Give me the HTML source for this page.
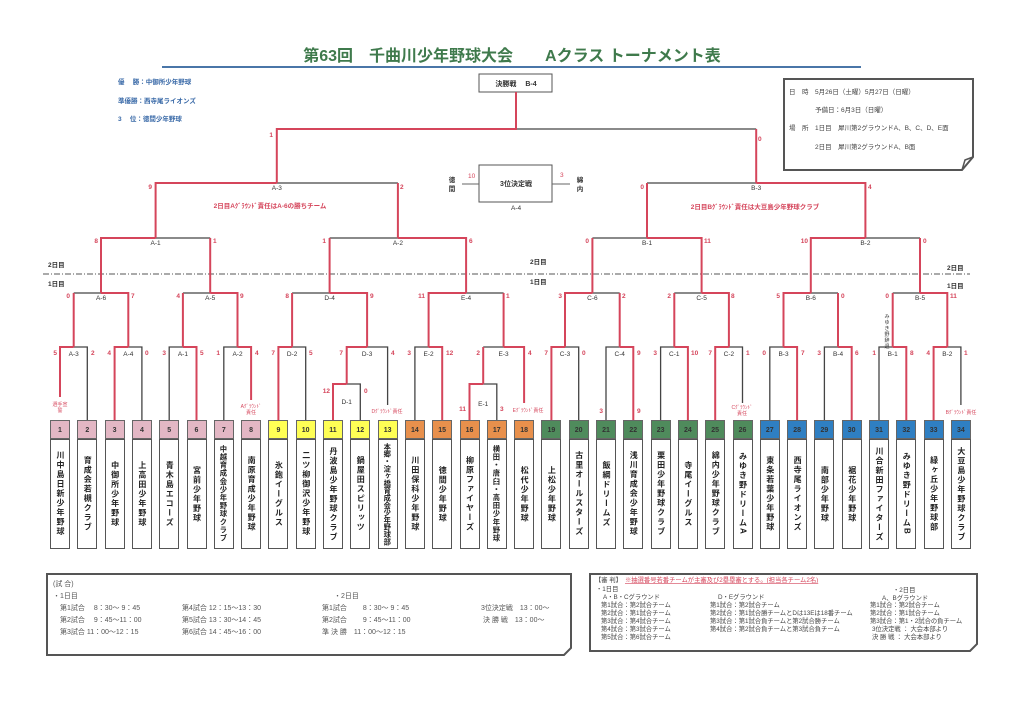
<!DOCTYPE html>
<html><head><meta charset="utf-8">
<style>
html,body{margin:0;padding:0;background:#fff;}
body{width:1024px;height:724px;position:relative;overflow:hidden;font-family:"Liberation Sans","Noto Sans CJK JP",sans-serif;}
svg{position:absolute;left:0;top:0;}
.th{position:absolute;top:420px;height:19px;width:20px;font-size:7px;font-weight:bold;color:#333;text-align:center;line-height:19px;border:1px solid #666;box-sizing:border-box;}
.tn{position:absolute;top:439px;height:110px;width:20px;border:1px solid #555;box-sizing:border-box;display:flex;align-items:center;justify-content:center;overflow:hidden;}
.tn span{writing-mode:vertical-rl;font-size:8px;font-weight:bold;color:#222;letter-spacing:1.5px;line-height:1;white-space:nowrap;}
.tn span.l{font-size:7.3px;letter-spacing:0;}
.p{background:#e3b7c4}.y{background:#ffff55}.o{background:#e8904c}.g{background:#4f8b5c}.b{background:#2f7fc2}
</style></head><body>
<svg width="1024" height="724" viewBox="0 0 1024 724" font-family="Liberation Sans, Noto Sans CJK JP, sans-serif">
<text x="512" y="61" font-size="16" font-weight="bold" fill="#3f7a4c" text-anchor="middle">第63回　千曲川少年野球大会　　Aクラス トーナメント表</text>
<line x1="162" y1="67" x2="861" y2="67" stroke="#4a76a8" stroke-width="2"/>
<g font-size="6.5" font-weight="bold" fill="#3a6aa8">
<text x="118" y="84">優　 勝：中御所少年野球</text>
<text x="118" y="103">準優勝：西寺尾ライオンズ</text>
<text x="118" y="121">3　 位：徳間少年野球</text>
</g>
<path d="M784 79H973V157L962 170H784Z" fill="#fff" stroke="#555" stroke-width="2"/>
<path d="M962 170L965 160L973 157" fill="none" stroke="#555" stroke-width="1.5"/>
<g font-size="6.5" fill="#444">
<text x="789" y="94">日　時　5月26日（土曜）5月27日（日曜）</text>
<text x="815" y="112">予備日：6月3日（日曜）</text>
<text x="789" y="130">場　所　1日目　犀川第2グラウンドA、B、C、D、E面</text>
<text x="815" y="149">2日目　犀川第2グラウンドA、B面</text>
</g>
<rect x="479" y="74" width="73" height="18" fill="#fff" stroke="#555" stroke-width="1"/>
<text x="516" y="86" font-size="7" font-weight="bold" text-anchor="middle" fill="#333">決勝戦　 B-4</text>
<rect x="479" y="165" width="73" height="37" fill="#fff" stroke="#555" stroke-width="1"/>
<text x="516" y="186" font-size="7" font-weight="bold" text-anchor="middle" fill="#333">3位決定戦</text>
<text x="516" y="210" font-size="6.5" text-anchor="middle" fill="#333">A-4</text>
<line x1="462" y1="184" x2="479" y2="184" stroke="#666"/>
<line x1="552" y1="184" x2="570" y2="184" stroke="#666"/>
<text x="468" y="178" font-size="6.5" fill="#d5455b">10</text>
<text x="560" y="177" font-size="6.5" fill="#d5455b">3</text>
<text x="452" y="182" font-size="6.5" font-weight="bold" fill="#333" text-anchor="middle">徳</text>
<text x="452" y="191" font-size="6.5" font-weight="bold" fill="#333" text-anchor="middle">間</text>
<text x="580" y="182" font-size="6.5" font-weight="bold" fill="#333" text-anchor="middle">綿</text>
<text x="580" y="191" font-size="6.5" font-weight="bold" fill="#333" text-anchor="middle">内</text>
<text x="270" y="208" font-size="6.5" font-weight="bold" fill="#d5455b" text-anchor="middle">2日目Aｸﾞﾗｳﾝﾄﾞ責任はA-6の勝ちチーム</text>
<text x="755" y="209" font-size="6.5" font-weight="bold" fill="#d5455b" text-anchor="middle">2日目Bｸﾞﾗｳﾝﾄﾞ責任は大豆島少年野球クラブ</text>
<line x1="43" y1="274" x2="970" y2="274" stroke="#555" stroke-width="1" stroke-dasharray="6 2 1 2"/>
<g font-size="6.5" font-weight="bold" fill="#333">
<text x="48" y="267">2日目</text><text x="48" y="286">1日目</text>
<text x="530" y="264">2日目</text><text x="530" y="284">1日目</text>
<text x="947" y="270">2日目</text><text x="947" y="288">1日目</text>
</g>
<g fill="none" stroke="#444" stroke-width="1.3">
<path d="M73.7 347H87.3V420M128.3 347H141.9V420M169.2 420V347H182.9M223.8 420V347H237.5M292.1 347H305.7V420"/>
<path d="M346.7 384H360.3V420M367.1 347H387.6V405M414.9 420V347H428.6M483.2 384H496.8V420M483.2 347H503.6"/>
<path d="M565 347H578.7V420M606 420V347H619.7M660.6 420V347H674.3M728.9 347H742.5V403M769.8 420V347H783.5M824.4 420V347H838M879 420V347H892.7M947.3 347H960.9V405"/>
<path d="M73.7 293H101M182.9 293H210.2M292.1 293H329.6M466.1 293H503.6M592.4 293H619.7M674.3 293H701.6M810.8 293H838M892.7 293H920"/>
<path d="M155.6 238H210.2M329.6 238H397.9M592.4 238H647M865.4 238H920M276.8 183H397.9M647 183H756.2M516 129H756.2"/>
</g>
<g fill="none" stroke="#d5455b" stroke-width="2">
<path d="M60 397V347H73.7M114.6 420V347H128.3M182.9 347H196.5V420M237.5 347H251.1V400M278.4 420V347H292.1"/>
<path d="M333 420V384H346.7M346.7 384V347H367.1M428.6 347H442.2V420M469.5 420V384H483.2M483.2 384V347M503.6 347H524.1V403"/>
<path d="M551.4 420V347H565M619.7 347H633.3V420M674.3 347H687.9V420M715.2 420V347H728.9M783.5 347H797.1V420M838 347H851.7V420M892.7 347H906.3V420M933.6 420V347H947.3"/>
<path d="M73.7 347V293M128.3 347V293H101M182.9 347V293M237.5 347V293H210.2M292.1 347V293M367.1 347V293H329.6M428.6 347V293H466.1M503.6 347V293"/>
<path d="M565 347V293H592.4M619.7 347V293M674.3 347V293M728.9 347V293H701.6M783.5 347V293H810.8M838 347V293M892.7 347V293M947.3 347V293H920"/>
<path d="M101 293V238H155.6M210.2 293V238M329.6 293V238M466.1 293V238H397.9M592.4 293V238M701.6 293V238H647M810.8 293V238H865.4M920 293V238"/>
<path d="M155.6 238V183H276.8M397.9 238V183M647 238V183M865.4 238V183H756.2M276.8 183V129H516V92M756.2 183V129"/>
</g>
<g font-size="6.5" fill="#333" text-anchor="middle">
<text x="73.7" y="356">A-3</text><text x="128.3" y="356">A-4</text><text x="182.9" y="356">A-1</text><text x="237.5" y="356">A-2</text><text x="292.1" y="356">D-2</text><text x="367.1" y="356">D-3</text><text x="428.6" y="356">E-2</text><text x="503.6" y="356">E-3</text>
<text x="565" y="356">C-3</text><text x="619.7" y="356">C-4</text><text x="674.3" y="356">C-1</text><text x="728.9" y="356">C-2</text><text x="783.5" y="356">B-3</text><text x="838" y="356">B-4</text><text x="892.7" y="356">B-1</text><text x="947.3" y="356">B-2</text>
<text x="346.7" y="404">D-1</text><text x="483.2" y="406">E-1</text>
<text x="101" y="300">A-6</text><text x="210.2" y="300">A-5</text><text x="329.6" y="300">D-4</text><text x="466.1" y="300">E-4</text><text x="592.4" y="300">C-6</text><text x="701.6" y="300">C-5</text><text x="810.8" y="300">B-6</text><text x="920" y="300">B-5</text>
<text x="155.6" y="245">A-1</text><text x="397.9" y="245">A-2</text><text x="647" y="245">B-1</text><text x="865.4" y="245">B-2</text>
<text x="276.8" y="190">A-3</text><text x="756.2" y="190">B-3</text>
</g>
<g font-size="6.5" fill="#d5455b" font-weight="bold">
<g text-anchor="end">
<text x="57" y="355">5</text><text x="111" y="355">4</text><text x="166" y="355">3</text><text x="220" y="355">1</text><text x="275" y="355">7</text><text x="343" y="355">7</text><text x="411" y="355">3</text><text x="480" y="355">2</text>
<text x="548" y="355">7</text><text x="657" y="355">3</text><text x="712" y="355">7</text><text x="766" y="355">0</text><text x="821" y="355">3</text><text x="876" y="355">1</text><text x="930" y="355">4</text>
<text x="330" y="393">12</text><text x="466" y="411">11</text><text x="603" y="413">3</text>
<text x="70" y="298">0</text><text x="180" y="298">4</text><text x="289" y="298">8</text><text x="425" y="298">11</text><text x="562" y="298">3</text><text x="671" y="298">2</text><text x="780" y="298">5</text><text x="889" y="298">0</text>
<text x="98" y="243">8</text><text x="326" y="243">1</text><text x="589" y="243">0</text><text x="808" y="243">10</text>
<text x="152" y="189">9</text><text x="644" y="189">0</text><text x="273" y="137">1</text>
</g>
<text x="91" y="355">2</text><text x="145" y="355">0</text><text x="200" y="355">5</text><text x="255" y="355">4</text><text x="309" y="355">5</text><text x="391" y="355">4</text><text x="446" y="355">12</text><text x="528" y="355">4</text>
<text x="582" y="355">0</text><text x="637" y="355">9</text><text x="691" y="355">10</text><text x="746" y="355">1</text><text x="801" y="355">7</text><text x="855" y="355">6</text><text x="910" y="355">8</text><text x="964" y="355">1</text>
<text x="364" y="393">0</text><text x="500" y="411">3</text><text x="637" y="413">9</text>
<text x="131" y="298">7</text><text x="240" y="298">9</text><text x="370" y="298">9</text><text x="506" y="298">1</text><text x="622" y="298">2</text><text x="731" y="298">8</text><text x="841" y="298">0</text><text x="950" y="298">11</text>
<text x="213" y="243">1</text><text x="469" y="243">6</text><text x="704" y="243">11</text><text x="923" y="243">0</text>
<text x="400" y="189">2</text><text x="868" y="189">4</text><text x="758" y="141">0</text>
</g>
<g font-size="5" fill="#d5455b" text-anchor="middle">
<text x="60" y="406">選手宣</text><text x="60" y="412">誓</text>
<text x="251" y="408">Aｸﾞﾗｳﾝﾄﾞ</text><text x="251" y="414">責任</text>
<text x="387" y="413">Dｸﾞﾗｳﾝﾄﾞ責任</text>
<text x="528" y="412">Eｸﾞﾗｳﾝﾄﾞ責任</text>
<text x="742" y="409">Cｸﾞﾗｳﾝﾄﾞ</text><text x="742" y="415">責任</text>
<text x="961" y="414">Bｸﾞﾗｳﾝﾄﾞ責任</text>
</g>
<g font-size="5" fill="#333" text-anchor="middle">
<text x="887" y="318">み</text><text x="887" y="324">ゆ</text><text x="887" y="330">き</text><text x="887" y="336">野</text><text x="887" y="342">辞</text><text x="887" y="348">退</text>
</g>
<path d="M47 574H571V648L564 655H47Z" fill="#fff" stroke="#555" stroke-width="2"/>
<path d="M590 574H977V644L970 651H590Z" fill="#fff" stroke="#555" stroke-width="2"/>
<g font-size="7" fill="#555">
<text x="53" y="586">(試 合)</text>
<text x="53" y="598">・1日目</text>
<text x="60" y="610">第1試合　 8：30～ 9：45</text>
<text x="60" y="622">第2試合　 9：45～11：00</text>
<text x="60" y="634">第3試合 11：00～12：15</text>
<text x="182" y="610">第4試合 12：15～13：30</text>
<text x="182" y="622">第5試合 13：30～14：45</text>
<text x="182" y="634">第6試合 14：45～16：00</text>
<text x="334" y="598">・2日目</text>
<text x="322" y="610">第1試合　　 8：30～ 9：45</text>
<text x="322" y="622">第2試合　　 9：45～11：00</text>
<text x="322" y="634">準 決 勝　11：00～12：15</text>
<text x="481" y="610">3位決定戦　13：00～</text>
<text x="483" y="622">決 勝 戦　13：00～</text>
</g>
<g font-size="6.3" fill="#444">
<text x="595" y="582">【審 判】</text>
<text x="625" y="582" fill="#d5455b" text-decoration="underline">※抽選番号若番チームが主審及び2塁塁審とする。(担当各チーム2名)</text>
<text x="596" y="591">・1日目</text>
<text x="603" y="599">A・B・Cグラウンド</text>
<text x="601" y="607">第1試合：第2試合チーム</text>
<text x="601" y="615">第2試合：第1試合チーム</text>
<text x="601" y="623">第3試合：第4試合チーム</text>
<text x="601" y="631">第4試合：第3試合チーム</text>
<text x="601" y="639">第5試合：第6試合チーム</text>
<text x="718" y="599">D・Eグラウンド</text>
<text x="710" y="607">第1試合：第2試合チーム</text>
<text x="710" y="615">第2試合：第1試合勝チームとDは13Eは18番チーム</text>
<text x="710" y="623">第3試合：第1試合負チームと第2試合勝チーム</text>
<text x="710" y="631">第4試合：第2試合負チームと第3試合負チーム</text>
<text x="893" y="592">・2日目</text>
<text x="882" y="600">A、Bグラウンド</text>
<text x="870" y="607">第1試合：第2試合チーム</text>
<text x="870" y="615">第2試合：第1試合チーム</text>
<text x="870" y="623">第3試合：第1・2試合の負チーム</text>
<text x="872" y="631">3位決定戦 ： 大会本部より</text>
<text x="872" y="639">決 勝 戦 ： 大会本部より</text>
</g>
</svg>

<div class="th p" style="left:50px">1</div><div class="tn" style="left:50px"><span>川中島日新少年野球</span></div>
<div class="th p" style="left:77.3px">2</div><div class="tn" style="left:77.3px"><span>育成会若槻クラブ</span></div>
<div class="th p" style="left:104.6px">3</div><div class="tn" style="left:104.6px"><span>中御所少年野球</span></div>
<div class="th p" style="left:131.9px">4</div><div class="tn" style="left:131.9px"><span>上高田少年野球</span></div>
<div class="th p" style="left:159.2px">5</div><div class="tn" style="left:159.2px"><span>青木島エコーズ</span></div>
<div class="th p" style="left:186.5px">6</div><div class="tn" style="left:186.5px"><span>宮前少年野球</span></div>
<div class="th p" style="left:213.8px">7</div><div class="tn" style="left:213.8px"><span class="l" style="letter-spacing:0.8px">中越育成会少年野球クラブ</span></div>
<div class="th p" style="left:241.1px">8</div><div class="tn" style="left:241.1px"><span>南原育成少年野球</span></div>
<div class="th y" style="left:268.4px">9</div><div class="tn" style="left:268.4px"><span>氷鉋イーグルス</span></div>
<div class="th y" style="left:295.7px">10</div><div class="tn" style="left:295.7px"><span>二ツ柳御沢少年野球</span></div>
<div class="th y" style="left:323px">11</div><div class="tn" style="left:323px"><span>丹波島少年野球クラブ</span></div>
<div class="th y" style="left:350.3px">12</div><div class="tn" style="left:350.3px"><span>鍋屋田スピリッツ</span></div>
<div class="th y" style="left:377.6px">13</div><div class="tn" style="left:377.6px"><span class="l">本郷・淀ヶ橋育成会少年野球部</span></div>
<div class="th o" style="left:404.9px">14</div><div class="tn" style="left:404.9px"><span>川田保科少年野球</span></div>
<div class="th o" style="left:432.2px">15</div><div class="tn" style="left:432.2px"><span>徳間少年野球</span></div>
<div class="th o" style="left:459.5px">16</div><div class="tn" style="left:459.5px"><span>柳原ファイヤーズ</span></div>
<div class="th o" style="left:486.8px">17</div><div class="tn" style="left:486.8px"><span class="l" style="letter-spacing:0.8px">横田・唐臼・高田少年野球</span></div>
<div class="th o" style="left:514.1px">18</div><div class="tn" style="left:514.1px"><span>松代少年野球</span></div>
<div class="th g" style="left:541.4px">19</div><div class="tn" style="left:541.4px"><span>上松少年野球</span></div>
<div class="th g" style="left:568.7px">20</div><div class="tn" style="left:568.7px"><span>古里オールスターズ</span></div>
<div class="th g" style="left:596px">21</div><div class="tn" style="left:596px"><span>飯綱ドリームズ</span></div>
<div class="th g" style="left:623.3px">22</div><div class="tn" style="left:623.3px"><span>浅川育成会少年野球</span></div>
<div class="th g" style="left:650.6px">23</div><div class="tn" style="left:650.6px"><span>栗田少年野球クラブ</span></div>
<div class="th g" style="left:677.9px">24</div><div class="tn" style="left:677.9px"><span>寺尾イーグルス</span></div>
<div class="th g" style="left:705.2px">25</div><div class="tn" style="left:705.2px"><span>綿内少年野球クラブ</span></div>
<div class="th g" style="left:732.5px">26</div><div class="tn" style="left:732.5px"><span>みゆき野ドリームA</span></div>
<div class="th b" style="left:759.8px">27</div><div class="tn" style="left:759.8px"><span>東条若葉少年野球</span></div>
<div class="th b" style="left:787.1px">28</div><div class="tn" style="left:787.1px"><span>西寺尾ライオンズ</span></div>
<div class="th b" style="left:814.4px">29</div><div class="tn" style="left:814.4px"><span>南部少年野球</span></div>
<div class="th b" style="left:841.7px">30</div><div class="tn" style="left:841.7px"><span>裾花少年野球</span></div>
<div class="th b" style="left:869px">31</div><div class="tn" style="left:869px"><span>川合新田ファイターズ</span></div>
<div class="th b" style="left:896.3px">32</div><div class="tn" style="left:896.3px"><span>みゆき野ドリームB</span></div>
<div class="th b" style="left:923.6px">33</div><div class="tn" style="left:923.6px"><span>緑ヶ丘少年野球部</span></div>
<div class="th b" style="left:950.9px">34</div><div class="tn" style="left:950.9px"><span>大豆島少年野球クラブ</span></div>
</body></html>
